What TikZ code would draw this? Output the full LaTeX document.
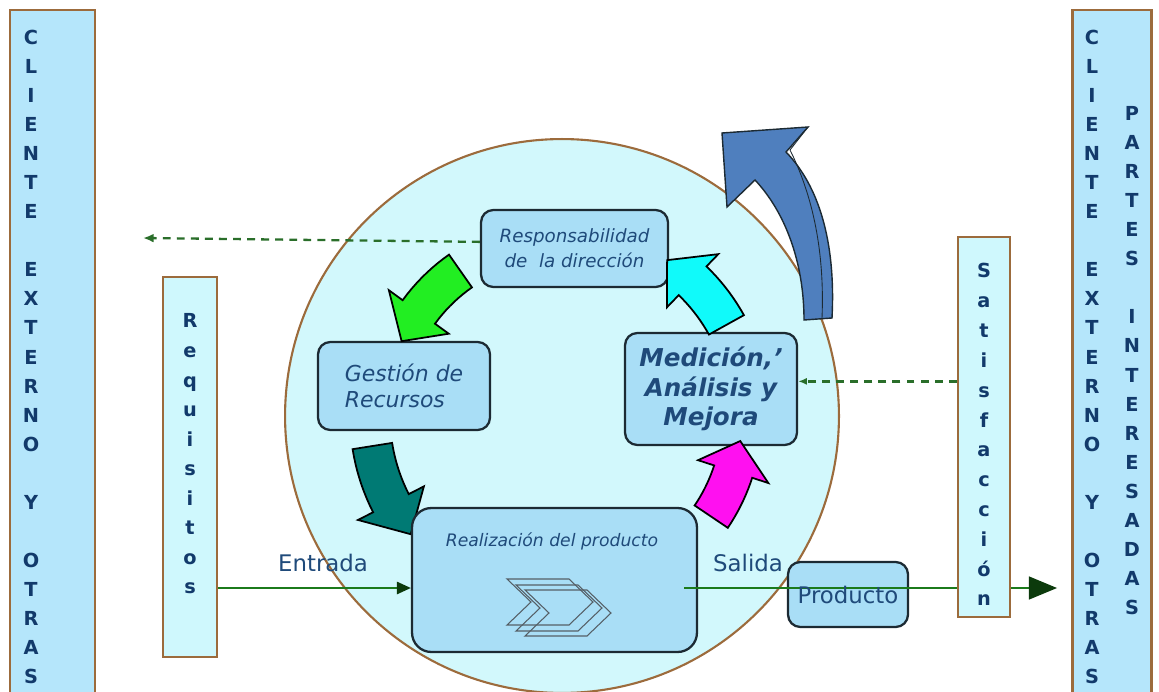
\documentclass[tikz,border=0pt]{standalone}
\usepackage{fontspec}
\setmainfont{DejaVu Sans}[ItalicFont={DejaVu Sans Oblique}, BoldFont={DejaVu Sans Bold}, BoldItalicFont={DejaVu Sans Bold Oblique}]
\usetikzlibrary{arrows.meta, calc}
\definecolor{mBrown}{HTML}{9C6B3C}
\definecolor{mSky}{HTML}{B5E6FB}
\definecolor{mPale}{HTML}{CFF8FD}
\definecolor{mCircle}{HTML}{D2F8FC}
\definecolor{mBox}{HTML}{A9DEF6}
\definecolor{mEdge}{HTML}{1C2A33}
\definecolor{mNavy}{HTML}{123A6B}
\definecolor{mText}{HTML}{1F4A7A}
\definecolor{mGreen}{HTML}{1B7A1B}
\definecolor{mDarkGreen}{HTML}{0C3A0C}
\definecolor{mDash}{HTML}{2A6E2A}
\definecolor{mLime}{HTML}{22EE22}
\definecolor{mTeal}{HTML}{007A74}
\definecolor{mMagenta}{HTML}{FF10F0}
\definecolor{mCyan}{HTML}{10FAFA}
\definecolor{mSteel}{HTML}{4F7FBE}

\begin{document}
\begin{tikzpicture}[x=0.02cm, y=-0.02cm,
      columna/.style={draw=mBrown, line width=1.6pt, inner sep=0pt},
      letra/.style={text=mNavy, anchor=base, font=\fontsize{11}{13}\selectfont\bfseries},
      caja/.style={draw=mEdge, fill=mBox, line width=1.3pt, rounded corners=7pt, inner sep=0pt, text=mText},
      flujo/.style={draw=mGreen, line width=1.1pt},
      discont/.style={draw=mDash, line width=1.3pt, dash pattern=on 4.5pt off 3.5pt},
      rotulo/.style={text=mText, font=\fontsize{13}{15}\selectfont}]
    \useasboundingbox (0,0) rectangle (1159,692);
    \draw[mBrown, line width=1.2pt, fill=mCircle] (562,416) circle[radius=5.54cm];
    \node[columna, fill=mSky, minimum width=17mm, minimum height=138mm] (cliente) at (52.5,355) {};
    \node[columna, fill=mSky, minimum width=15.8mm, minimum height=138mm] (partes) at (1112,355) {};
    \node[columna, fill=mPale, minimum width=10.8mm, minimum height=76mm] (requisitos) at (190,467) {};
    \foreach \l [count=\i from 0] in {C,L,I,E,N,T,E,~,E,X,T,E,R,N,O,~,Y,~,O,T,R,A,S} {
      \node[letra] at (31,{45+29*\i}) {\l};
      \node[letra] at (1092,{45+29*\i}) {\l};
    }
    \foreach \l [count=\i from 0] in {P,A,R,T,E,S,~,I,N,T,E,R,E,S,A,D,A,S}
      \node[letra] at (1132,{121+29*\i}) {\l};
    \foreach \l [count=\i from 0] in {R,e,q,u,i,s,i,t,o,s}
      \node[letra] at (190,{328+29.5*\i}) {\l};

    \node[caja, minimum width=37.4mm, minimum height=15.4mm, align=center,
      font=\fontsize{10.4}{14.2}\selectfont\itshape] (responsabilidad) at (574.5,248.5)
      {Responsabilidad\\de\ \ la dirección};
    \node[caja, minimum width=34.4mm, minimum height=17.6mm, align=left,
      font=\fontsize{12.5}{14.7}\selectfont\itshape] (gestion) at (404,386) {Gestión de\\Recursos};
    \node[caja, minimum width=34.4mm, minimum height=22.4mm, align=center,
      font=\fontsize{14}{16.7}\selectfont\bfseries\itshape] (medicion) at (711,389)
      {Medición,'\\Análisis y\\Mejora};

    \foreach \fc/\rin/\rout/\ta/\tb/\tp in {mLime/157/197/-125/-144/-155,
        mTeal/172/212/-189/-207/-218, mMagenta/160/200/-326/-342/-352, mCyan/168/208/-29/-46/-56} {
      \filldraw[fill=\fc, draw=black, line width=1pt, shift={(562,416)}]
        plot[domain=\ta:\tb, samples=10] (\x:\rout) -- ({\tb}:{\rout+17}) -- ({\tp}:{(\rin+\rout)/2})
        -- ({\tb}:{\rin-17}) -- plot[domain=\tb:\ta, samples=10] (\x:\rin) -- cycle;
    }
    \filldraw[fill=mSteel, draw=mEdge, line width=0.8pt] (832,318) .. controls (836,240) and (818,185) .. (786,152)
      -- (808,127) -- (722,133) -- (727,207) -- (755,180) .. controls (785,212) and (804,262) .. (804,320) -- cycle;
    \draw[mEdge, line width=0.5pt] (822,318) .. controls (825,245) and (810,190) .. (790,150) -- (808,127);

    \node[caja, rounded corners=11pt, minimum width=57mm, minimum height=28.8mm] (realizacion) at (554.5,580) {};
    \node[text=mText, font=\fontsize{9.8}{12}\selectfont\itshape] (titulo) at (552,541) {Realización del producto};
    \foreach \dx/\dy in {0/0, 9/6, 18/11}
      \draw[mEdge!75, line width=0.6pt] ({507+\dx},{579+\dy}) -- ++(62,0) -- ++(24,23) -- ++(-24,23)
        -- ++(-62,0) -- ++(24,-23) -- cycle;

    \node[rotulo] (entrada) at (323,563) {Entrada};
    \node[rotulo] (salidatxt) at (748,563) {Salida};

    \coordinate (izquierda) at (143,238);
    \draw[discont, -{Latex[length=6pt,width=5pt]}] (responsabilidad.176) -- (izquierda);

    \node[caja, minimum width=24mm, minimum height=13mm] (producto) at (848,594.5) {};
    \coordinate (salida) at (684,588);
    \draw[flujo, -{Triangle[length=8pt,width=7pt,color=mDarkGreen]}] (requisitos.east |- salida) -- (realizacion.west |- salida);
    \draw[flujo, shorten >=8pt, -{Triangle[length=16pt,width=13pt,color=mDarkGreen]}] (salida) -- (partes.west |- salida);
    \node[rotulo] at (producto) {Producto};

    \node[columna, fill=mPale, minimum width=10.4mm, minimum height=76mm] (satisfaccion) at (984,427) {};
    \foreach \l [count=\i from 0] in {S,a,t,i,s,f,a,c,c,i,ó,n}
      \node[letra] at (984,{278+29.8*\i}) {\l};
    \draw[discont, -{Latex[length=5pt,width=4pt]}] (satisfaccion.west |- medicion.5) -- (medicion.5);
  \end{tikzpicture}
\end{document}
